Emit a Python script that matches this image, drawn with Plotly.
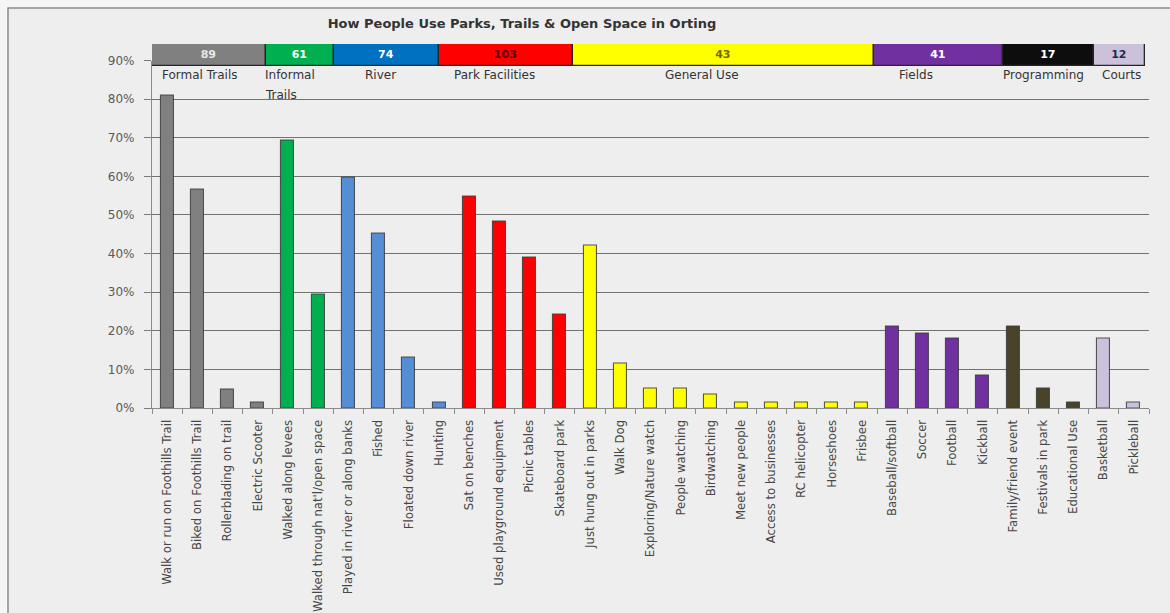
import plotly.graph_objects as go

# ---- data -------------------------------------------------------------
activities = [
    "Walk or run on Foothills Trail", "Biked on Foothills Trail", "Rollerblading on trail",
    "Electric Scooter", "Walked along levees", "Walked through nat'l/open space",
    "Played in river or along banks", "Fished", "Floated down river", "Hunting",
    "Sat on benches", "Used playground equipment", "Picnic tables", "Skateboard park",
    "Just hung out in parks", "Walk Dog", "Exploring/Nature watch", "People watching",
    "Birdwatching", "Meet new people", "Access to businesses", "RC helicopter",
    "Horseshoes", "Frisbee", "Baseball/softball", "Soccer", "Football", "Kickball",
    "Family/friend event", "Festivals in park", "Educational Use", "Basketball", "Pickleball",
]
share = [
    0.81, 0.567, 0.049, 0.013, 0.694, 0.293,
    0.598, 0.453, 0.130, 0.013,
    0.547, 0.484, 0.389, 0.241,
    0.420, 0.114, 0.050, 0.050, 0.034, 0.013, 0.013, 0.013, 0.013, 0.013,
    0.210, 0.194, 0.179, 0.083,
    0.210, 0.050, 0.013,
    0.179, 0.013,
]
activity_group = (
    ["Formal Trails"] * 4 + ["Informal Trails"] * 2 + ["River"] * 4
    + ["Park Facilities"] * 4 + ["General Use"] * 10 + ["Fields"] * 4
    + ["Programming"] * 3 + ["Courts"] * 2
)

groups = ["Formal Trails", "Informal Trails", "River", "Park Facilities",
          "General Use", "Fields", "Programming", "Courts"]
group_counts = [89, 61, 74, 103, 43, 41, 17, 12]
# header band edges, in category-slot units along the x axis
group_edges = [0, 3.76, 6.02, 9.50, 13.92, 23.91, 28.16, 31.18, 32.88]

y_ticks = [0, 0.1, 0.2, 0.3, 0.4, 0.5, 0.6, 0.7, 0.8, 0.9]

# ---- styling ----------------------------------------------------------
bar_colors = {
    "Formal Trails": "#808080", "Informal Trails": "#00B050", "River": "#558ED5",
    "Park Facilities": "#FF0000", "General Use": "#FFFF00", "Fields": "#7030A0",
    "Programming": "#494429", "Courts": "#CCC1DA",
}
band_colors = {
    "Formal Trails": "#808080", "Informal Trails": "#00B050", "River": "#0070C0",
    "Park Facilities": "#FF0000", "General Use": "#FFFF00", "Fields": "#7030A0",
    "Programming": "#0D0D0D", "Courts": "#CCC1DA",
}
band_text = {
    "Formal Trails": "#E8E8E8", "Informal Trails": "#FFFFFF", "River": "#FFFFFF",
    "Park Facilities": "#5A0000", "General Use": "#6B6B00", "Fields": "#FFFFFF",
    "Programming": "#FFFFFF", "Courts": "#1F2A4A",
}

W, H = 1170, 613
ML, MR, MT, MB = 152, 21, 40, 205
plot_w, plot_h = W - ML - MR, H - MT - MB


def px_x(p):
    return (p - ML) / plot_w


def px_y(p):
    return (H - MB - p) / plot_h


fig = go.Figure()

fig.add_trace(go.Bar(
    x=activities, y=share,
    marker=dict(color=[bar_colors[g] for g in activity_group],
                line=dict(color="rgba(60,60,60,0.85)", width=1.1)),
    width=0.43, xaxis="x", yaxis="y", hoverinfo="x+y",
))

# category header band
starts = group_edges[:-1]
spans = [b - a for a, b in zip(group_edges[:-1], group_edges[1:])]
fig.add_trace(go.Bar(
    y=[0] * len(groups), x=spans, base=starts, orientation="h",
    marker=dict(color=[band_colors[g] for g in groups],
                line=dict(color="#262626", width=1.3)),
    width=1, text=[str(c) for c in group_counts],
    textposition="inside", insidetextanchor="middle", textangle=0,
    constraintext="none",
    textfont=dict(family="DejaVu Sans", size=11, weight="bold",
                  color=[band_text[g] for g in groups]),
    xaxis="x2", yaxis="y2", hoverinfo="skip",
))

# group names under the band
label_spots = [
    ("Formal Trails", 1.59, "center"), ("Informal", 3.68, "left"),
    ("River", 7.55, "center"), ("Park Facilities", 11.32, "center"),
    ("General Use", 18.21, "center"), ("Fields", 25.30, "center"),
    ("Programming", 29.50, "center"), ("Courts", 32.09, "center"),
]
annotations = []
for txt, xv, anchor in label_spots:
    annotations.append(dict(
        text=txt, x=xv, xref="x2", y=px_y(75.5), yref="paper",
        xanchor=anchor, yanchor="middle", showarrow=False,
        font=dict(family="DejaVu Sans", size=12, color="#333333"),
    ))
annotations.append(dict(
    text="Trails", x=3.68, xref="x2", y=px_y(95), yref="paper",
    xanchor="left", yanchor="middle", showarrow=False,
    font=dict(family="DejaVu Sans", size=12, color="#333333"),
))

y_top = px_y(60.5)
fig.update_layout(
    width=W, height=H,
    margin=dict(l=ML, r=MR, t=MT, b=MB, autoexpand=False),
    paper_bgcolor="#f5f5f5", plot_bgcolor="rgba(0,0,0,0)",
    showlegend=False, bargap=0,
    title=dict(text="How People Use Parks, Trails & Open Space in Orting",
               x=522 / W, xref="container", xanchor="center",
               y=1 - 23 / H, yref="container", yanchor="middle",
               font=dict(family="DejaVu Sans", size=13, weight="bold", color="#333333")),
    xaxis=dict(
        domain=[0, 1], range=[-0.5, 32.5], type="category",
        tickangle=-90, tickson="boundaries", ticks="outside", ticklen=5,
        tickcolor="#8a8a8a", showline=True, linecolor="#8a8a8a", linewidth=1.3,
        showgrid=False, automargin=False, ticklabelstandoff=6,
        tickfont=dict(family="DejaVu Sans", size=11.7, color="#474747"),
    ),
    yaxis=dict(
        domain=[0, y_top], range=[0, 0.9], tickvals=y_ticks, tickformat=".0%",
        ticks="outside", ticklen=7, tickcolor="#7a7a7a",
        showline=True, linecolor="#8a8a8a", linewidth=1.2,
        showgrid=True, gridcolor="#727272", gridwidth=1.4, zeroline=False,
        automargin=False, ticklabelstandoff=7,
        tickfont=dict(family="DejaVu Sans", size=12, color="#5a5a5a"),
    ),
    xaxis2=dict(domain=[0, 1], range=[0, 33], anchor="y2", visible=False,
                fixedrange=True),
    yaxis2=dict(domain=[px_y(66), px_y(44)], range=[-0.5, 0.5], anchor="x2",
                visible=False, fixedrange=True),
    annotations=annotations,
    shapes=[dict(
        type="rect", xref="paper", yref="paper", layer="below",
        x0=px_x(8), x1=px_x(W + 20), y0=px_y(H + 20), y1=px_y(8),
        fillcolor="#eeeeee", line=dict(color="#8c8c8c", width=1.5),
    )],
)

fig.write_html("out.html")
